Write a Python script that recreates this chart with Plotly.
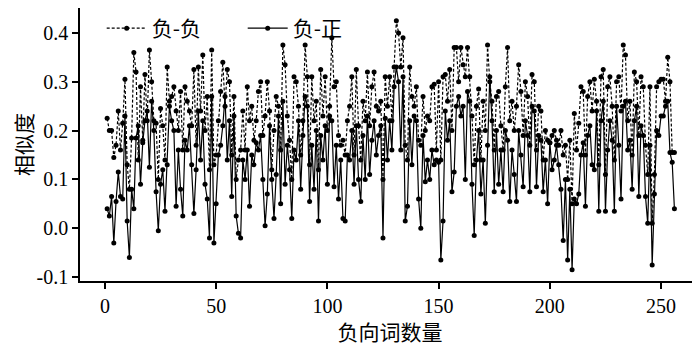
import plotly.graph_objects as go

x_vals = list(range(1, 257))

neg_neg = [
    0.225, 0.20, 0.20, 0.145, 0.17, 0.24, 0.16, 0.215, 0.305, 0.13,
    0.08, 0.185, 0.36, 0.32, 0.14, 0.29, 0.18, 0.315, 0.22, 0.365,
    0.30, 0.22, 0.215, 0.10, 0.245, 0.21, 0.14, 0.33, 0.26, 0.27,
    0.29, 0.24, 0.20, 0.28, 0.16, 0.29, 0.26, 0.24, 0.21, 0.325,
    0.17, 0.33, 0.24, 0.355, 0.20, 0.27, 0.12, 0.365, 0.13, 0.15,
    0.22, 0.28, 0.34, 0.25, 0.325, 0.30, 0.15, 0.27, 0.10, 0.14,
    0.16, 0.24, 0.16, 0.29, 0.22, 0.25, 0.18, 0.22, 0.28, 0.30,
    0.19, 0.23, 0.30, 0.24, 0.12, 0.20, 0.27, 0.25, 0.16, 0.375,
    0.335, 0.23, 0.18, 0.10, 0.31, 0.30, 0.25, 0.15, 0.22, 0.375,
    0.31, 0.13, 0.31, 0.22, 0.26, 0.12, 0.325, 0.23, 0.31, 0.20,
    0.25, 0.39, 0.29, 0.30, 0.19, 0.17, 0.18, 0.15, 0.22, 0.25,
    0.31, 0.15, 0.325, 0.21, 0.14, 0.26, 0.22, 0.32, 0.21, 0.29,
    0.32, 0.25, 0.24, 0.26, 0.10, 0.31, 0.25, 0.31, 0.22, 0.33,
    0.425, 0.40, 0.33, 0.39, 0.17, 0.14, 0.33, 0.27, 0.25, 0.29,
    0.18, 0.17, 0.27, 0.20, 0.23, 0.22, 0.29, 0.295, 0.16, 0.30,
    0.14, 0.31, 0.315, 0.26, 0.325, 0.20, 0.37, 0.37, 0.30, 0.37,
    0.335, 0.31, 0.37, 0.31, 0.23, 0.13, 0.25, 0.285, 0.14, 0.26,
    0.20, 0.375, 0.30, 0.26, 0.16, 0.27, 0.28, 0.21, 0.16, 0.29,
    0.37, 0.22, 0.26, 0.20, 0.25, 0.335, 0.28, 0.19, 0.30, 0.27,
    0.17, 0.315, 0.30, 0.16, 0.25, 0.24, 0.14, 0.20, 0.18, 0.175,
    0.19, 0.20, 0.18, 0.17, 0.20, 0.15, 0.17, 0.10, 0.18, 0.05,
    0.235, 0.16, 0.215, 0.29, 0.28, 0.15, 0.27, 0.30, 0.24, 0.305,
    0.26, 0.13, 0.31, 0.325, 0.11, 0.29, 0.31, 0.25, 0.14, 0.30,
    0.31, 0.24, 0.375, 0.355, 0.22, 0.26, 0.15, 0.32, 0.30, 0.19,
    0.31, 0.29, 0.17, 0.11, 0.29, 0.01, 0.11, 0.29, 0.30, 0.305,
    0.305, 0.26, 0.35, 0.30, 0.155, 0.155,
]

neg_pos = [
    0.04, 0.025, 0.065, -0.03, 0.055, 0.115, 0.065, 0.06, 0.23, 0.015,
    -0.06, 0.08, 0.04, 0.185, 0.21, 0.09, 0.175, 0.22, 0.24, 0.125,
    0.26, 0.20, 0.075, -0.005, 0.09, 0.12, 0.035, 0.13, 0.25, 0.22,
    0.20, 0.045, 0.16, 0.08, 0.025, 0.18, 0.16, 0.21, 0.13, 0.03,
    0.12, 0.24, 0.14, 0.22, 0.09, 0.06, -0.02, 0.27, -0.03, 0.05,
    0.15, 0.17, 0.21, 0.27, 0.14, 0.22, 0.065, 0.23, 0.025, -0.01,
    -0.02, 0.14, 0.10, 0.16, 0.045, 0.15, 0.13, 0.175, 0.16, 0.19,
    0.10, 0.005, 0.07, 0.21, 0.10, 0.02, 0.11, 0.23, 0.05, 0.26,
    0.09, 0.17, 0.12, 0.02, 0.16, 0.14, 0.22, 0.08, 0.19, 0.27,
    0.25, 0.055, 0.17, 0.08, 0.20, 0.015, 0.19, 0.14, 0.21, 0.09,
    0.23, 0.22, 0.085, 0.17, 0.06, 0.14, 0.02, 0.015, 0.15, 0.14,
    0.20, 0.09, 0.21, 0.10, 0.055, 0.19, 0.10, 0.23, 0.11, 0.18,
    0.22, 0.15, 0.19, 0.21, -0.02, 0.225, 0.14, 0.22, 0.16, 0.29,
    0.33, 0.30, 0.16, 0.31, 0.015, 0.045, 0.22, 0.13, 0.23, 0.22,
    0.06, 0.00, 0.19, 0.095, 0.14, 0.10, 0.16, 0.13, 0.14, 0.135,
    -0.065, 0.015, 0.24, 0.18, 0.22, 0.075, 0.115, 0.25, 0.27, 0.23,
    0.25, 0.10, 0.28, 0.26, 0.09, -0.015, 0.14, 0.20, 0.07, 0.14,
    0.01, 0.17, 0.31, 0.22, 0.075, 0.20, 0.09, 0.16, 0.075, 0.20,
    0.18, 0.055, 0.16, 0.11, 0.055, 0.20, 0.15, 0.085, 0.22, 0.19,
    0.075, 0.25, 0.24, 0.085, 0.19, 0.18, 0.075, 0.14, 0.05, 0.175,
    0.12, 0.14, 0.17, 0.13, 0.08, -0.025, 0.10, -0.065, 0.08, -0.085,
    0.06, 0.05, 0.07, 0.15, 0.175, 0.045, 0.19, 0.21, 0.13, 0.12,
    0.24, 0.035, 0.22, 0.26, 0.035, 0.16, 0.22, 0.18, 0.035, 0.25,
    0.17, 0.06, 0.25, 0.26, 0.16, 0.18, 0.08, 0.22, 0.25, 0.065,
    0.21, 0.19, 0.065, 0.01, 0.17, -0.075, 0.07, 0.20, 0.19, 0.23,
    0.23, 0.25, 0.26, 0.155, 0.135, 0.04,
]

x_ticks = [0, 50, 100, 150, 200, 250]
y_ticks = [-0.1, 0.0, 0.1, 0.2, 0.3, 0.4]
y_ticktext = ["-0.1", "0.0", "0.1", "0.2", "0.3", "0.4"]

series_names = ["负-负", "负-正"]
x_title = "负向词数量"
y_title = "相似度"

num_font = "Liberation Serif"
cjk_font = "Noto Sans CJK SC"

fig = go.Figure()
fig.add_trace(go.Scatter(
    x=x_vals, y=neg_neg, name=series_names[0], mode="lines+markers",
    line=dict(color="black", width=1.2, dash="3px,2px"),
    marker=dict(color="black", size=5, symbol="circle"),
))
fig.add_trace(go.Scatter(
    x=x_vals, y=neg_pos, name=series_names[1], mode="lines+markers",
    line=dict(color="black", width=1.2),
    marker=dict(color="black", size=5, symbol="circle"),
))

# page body has an 8px margin, so the figure is 692x338 and starts at (8, 8)
fig.update_layout(
    width=692, height=338,
    margin=dict(l=72, r=0, t=0, b=65, autoexpand=False),
    paper_bgcolor="white", plot_bgcolor="white",
    font=dict(family=num_font, size=20, color="black"),
    showlegend=True,
    legend=dict(
        orientation="h", x=0.035, y=1.0, xanchor="left", yanchor="top",
        bgcolor="rgba(0,0,0,0)", font=dict(family=cjk_font, size=21),
        itemwidth=40, tracegroupgap=0, entrywidth=86, entrywidthmode="pixels",
    ),
    xaxis=dict(
        range=[-11.2, 267.5], tickvals=x_ticks, showgrid=False, zeroline=False,
        showline=True, linecolor="black", linewidth=1.5,
        ticks="outside", ticklen=6, tickcolor="black", tickwidth=1.5,
        tickfont=dict(family=num_font, size=20),
        title=dict(text=x_title, font=dict(family=cjk_font, size=21), standoff=8),
    ),
    yaxis=dict(
        range=[-0.108, 0.451], tickvals=y_ticks, ticktext=y_ticktext,
        showgrid=False, zeroline=False,
        showline=True, linecolor="black", linewidth=1.5,
        ticks="outside", ticklen=6, tickcolor="black", tickwidth=1.5,
        tickfont=dict(family=num_font, size=20),
        title=dict(text=y_title, font=dict(family=cjk_font, size=21), standoff=8),
    ),
)

fig.write_html("out.html")
